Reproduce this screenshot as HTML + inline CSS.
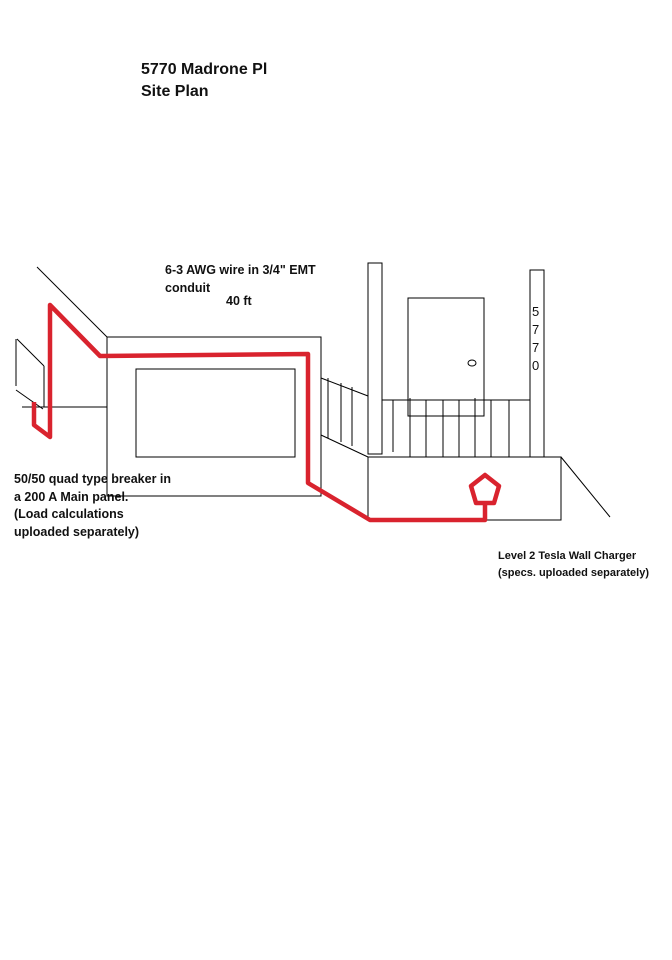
<!DOCTYPE html>
<html><head><style>
body{margin:0;background:#fff;}
svg{display:block}
text{font-family:"Liberation Sans",sans-serif;fill:#111}
</style></head><body>
<svg width="672" height="960" viewBox="0 0 672 960" xmlns="http://www.w3.org/2000/svg">
<rect width="672" height="960" fill="#fff"/>
<text x="141" y="74" font-size="16" font-weight="bold">5770 Madrone Pl</text>
<text x="141" y="96" font-size="16" font-weight="bold">Site Plan</text>
<text x="165" y="274" font-size="12.5" font-weight="bold">6-3 AWG wire in 3/4" EMT</text>
<text x="165" y="292" font-size="12.5" font-weight="bold">conduit</text>
<text x="226" y="305" font-size="12.5" font-weight="bold">40 ft</text>
<text x="14" y="483" font-size="12.5" font-weight="bold">50/50 quad type breaker in</text>
<text x="14" y="501" font-size="12.5" font-weight="bold">a 200 A Main panel.</text>
<text x="14" y="518" font-size="12.5" font-weight="bold">(Load calculations</text>
<text x="14" y="536" font-size="12.5" font-weight="bold">uploaded separately)</text>
<text x="498" y="559" font-size="11" font-weight="bold">Level 2 Tesla Wall Charger</text>
<text x="498" y="576" font-size="11" font-weight="bold">(specs. uploaded separately)</text>
<g stroke="#000" stroke-width="1" fill="none">
<line x1="37" y1="267" x2="107" y2="337"/>
<rect x="107" y="337" width="214" height="159"/>
<rect x="136" y="369" width="159" height="88"/>
<line x1="22" y1="407" x2="107" y2="407"/>
<line x1="16" y1="339" x2="16" y2="386"/>
<line x1="17" y1="339" x2="44" y2="366"/>
<line x1="44" y1="366" x2="44" y2="407"/>
<line x1="16" y1="390" x2="43" y2="409"/>
<line x1="321" y1="378" x2="368" y2="396"/>
<line x1="321" y1="435" x2="368" y2="457"/>
<line x1="328" y1="378" x2="328" y2="438"/>
<line x1="341" y1="383" x2="341" y2="442"/>
<line x1="352" y1="387" x2="352" y2="446"/>
<rect x="368" y="263" width="14" height="191"/>
<rect x="530" y="270" width="14" height="187"/>
<rect x="408" y="298" width="76" height="118"/>
<ellipse cx="472" cy="363" rx="4" ry="3"/>
<line x1="382" y1="400" x2="530" y2="400"/>
<line x1="393" y1="400" x2="393" y2="452"/>
<line x1="410" y1="398" x2="410" y2="457"/>
<line x1="426" y1="400" x2="426" y2="457"/>
<line x1="443" y1="400" x2="443" y2="457"/>
<line x1="459" y1="400" x2="459" y2="457"/>
<line x1="475" y1="398" x2="475" y2="457"/>
<line x1="491" y1="400" x2="491" y2="457"/>
<line x1="509" y1="400" x2="509" y2="457"/>
<rect x="368" y="457" width="193" height="63"/>
<line x1="561" y1="457" x2="610" y2="517"/>
</g>
<text x="532" y="316" font-size="13">5</text>
<text x="532" y="334" font-size="13">7</text>
<text x="532" y="352" font-size="13">7</text>
<text x="532" y="370" font-size="13">0</text>
<g stroke="#d9232e" stroke-width="4.5" fill="none" stroke-linejoin="round">
<polyline points="34,402 34,425 50,437 50,305 100,356 308,354 308,483 370,520 485,520 485,505"/>
<polygon points="485,475 499,486 494,503 476,503 471,486"/>
</g>
</svg>
</body></html>
